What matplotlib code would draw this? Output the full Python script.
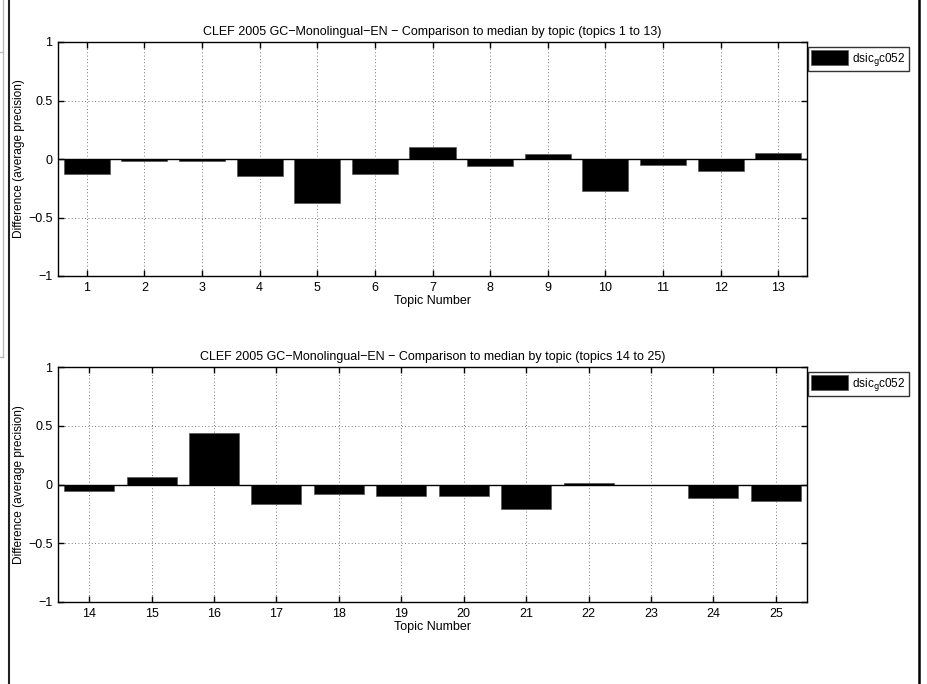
import matplotlib.pyplot as plt
from matplotlib.lines import Line2D

plt.rcParams['font.family'] = ['Liberation Sans', 'DejaVu Sans']
plt.rcParams['font.size'] = 9

# Difference to median (average precision) per topic
topics_a = [1, 2, 3, 4, 5, 6, 7, 8, 9, 10, 11, 12, 13]
diff_a = [-0.125, -0.014, -0.014, -0.142, -0.38, -0.125, 0.10,
          -0.06, 0.045, -0.274, -0.051, -0.10, 0.051]

topics_b = [14, 15, 16, 17, 18, 19, 20, 21, 22, 23, 24, 25]
diff_b = [-0.054, 0.068, 0.435, -0.167, -0.079, -0.099,
          -0.096, -0.21, 0.014, -0.005, -0.114, -0.142]

run_name = "dsic$_{\\mathrm{g}}$c052"
titles = ["CLEF 2005 GC\u2212Monolingual\u2212EN \u2212 Comparison to median by topic (topics 1 to 13)",
          "CLEF 2005 GC\u2212Monolingual\u2212EN \u2212 Comparison to median by topic (topics 14 to 25)"]

W, H = 927, 684
fig = plt.figure(figsize=(W / 100, H / 100), dpi=100)


def make_axes(top, bottom):
    return fig.add_axes([58 / W, 1 - bottom / H, 749 / W, (bottom - top) / H])


def draw(ax, topics, diffs, title):
    ax.bar(topics, diffs, width=0.8, color='black', edgecolor='#555555',
           linewidth=0.5, label=run_name, zorder=2)
    ax.axhline(0, color='black', linewidth=1, zorder=3)
    ax.set_xlim(topics[0] - 0.5, topics[-1] + 0.5)
    ax.set_ylim(-1, 1)
    ax.set_xticks(topics)
    ax.set_yticks([-1, -0.5, 0, 0.5, 1])
    ax.set_yticklabels(["\u22121", "\u22120.5", "0", "0.5", "1"])
    ax.grid(True, linestyle=(0, (1, 3)), color='black', linewidth=0.6, alpha=0.7)
    ax.set_axisbelow(True)
    ax.tick_params(direction='in', top=True, right=True, length=4, width=1,
                   labelsize=9, pad=4)
    for s in ax.spines.values():
        s.set_linewidth(1)
    ax.set_title(title, fontsize=9, pad=5)
    ax.set_xlabel("Topic Number", fontsize=9, labelpad=1)
    ax.set_ylabel("Difference (average precision)", fontsize=8.6)
    ax.yaxis.set_label_coords(-0.044, 0.5)
    leg = ax.legend(loc='upper left', bbox_to_anchor=(1.001, 0.979), fontsize=8.5,
                    frameon=True, fancybox=False, edgecolor='black',
                    handlelength=3.1, handleheight=1.55, borderaxespad=0,
                    borderpad=0.3, handletextpad=0.35)
    leg.get_frame().set_linewidth(1)


ax1 = make_axes(42, 276)
draw(ax1, topics_a, diff_a, titles[0])
ax2 = make_axes(367, 602)
draw(ax2, topics_b, diff_b, titles[1])

# page border lines
fig.add_artist(Line2D([8.5 / W, 8.5 / W], [0, 1], color='#222222', linewidth=1.5))
fig.add_artist(Line2D([918.5 / W, 918.5 / W], [0, 1], color='black', linewidth=1.8))
fig.add_artist(Line2D([2.5 / W, 2.5 / W], [1 - 357 / H, 1], color='#bbbbbb', linewidth=1))
fig.add_artist(Line2D([0, 2.5 / W], [1 - 357 / H, 1 - 357 / H], color='#bbbbbb', linewidth=1))
fig.add_artist(Line2D([0, 2.5 / W], [1 - 52 / H, 1 - 52 / H], color='#bbbbbb', linewidth=1))

fig.savefig("out.png", dpi=100)
